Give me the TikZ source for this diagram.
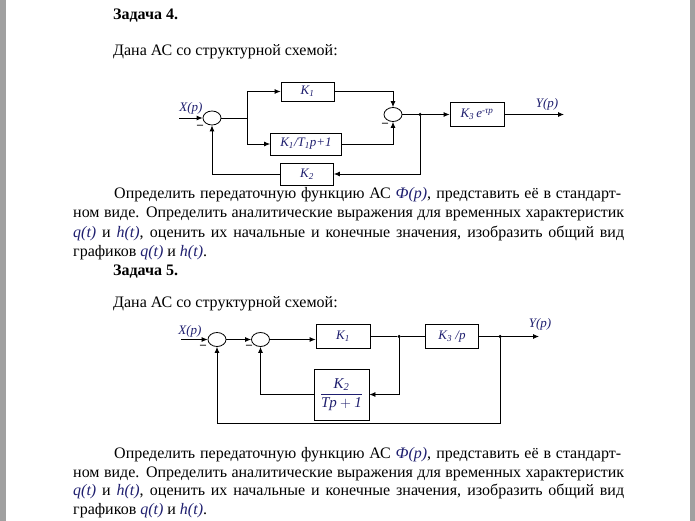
\documentclass[tikz,border=0pt]{standalone}
\usepackage{fontspec}
\setmainfont{Liberation Serif}
\usetikzlibrary{arrows.meta,positioning,shapes.geometric,calc}
\definecolor{formblue}{RGB}{30,30,110}
\definecolor{framegray}{RGB}{160,160,160}
\newcommand{\fm}[1]{\textcolor{formblue}{\textit{#1}}}
\newcommand{\Kx}[1]{\fm{K\textsubscript{#1}}}

\begin{document}
\begin{tikzpicture}[x=1pt,y=-1pt,
    txt/.style={anchor=base west, inner sep=0pt, font=\fontsize{16}{18.5}\selectfont},
    lbl/.style={inner sep=0pt, font=\fontsize{13}{15}\selectfont},
    box/.style={draw, line width=0.8pt, inner sep=1pt, font=\fontsize{13}{15}\selectfont},
    sum/.style={draw, ellipse, line width=0.8pt, minimum width=18pt, minimum height=14pt, inner sep=0pt},
    dot/.style={circle, fill, inner sep=0pt, minimum size=3.5pt},
    minus/.style={inner sep=0pt, font=\fontsize{12}{12}\selectfont\bfseries},
    ln/.style={line width=0.8pt},
    arr/.style={-{Latex[length=6pt,width=5pt]}, line width=0.8pt}
]
\useasboundingbox (0,0) rectangle (695,521);
\fill[framegray] (0,0) rectangle (6,521);
\fill[framegray] (690,0) rectangle (695,521);

% task 4
\node[txt] (t4) at (113,20) {\bfseries Задача 4.};
\node[txt] (g4) at (113,56) {Дана АС со структурной схемой:};

\node[sum] (s1) at (212,118) {};
\node[box, minimum width=53pt, minimum height=19pt] (k1) at (307.5,91.5) {\Kx{1}};
\node[box, minimum width=71pt, minimum height=22pt] (kt) at (306,144) {\Kx{1}\fm{/T\textsubscript{1}p+1}};
\node[box, minimum width=53pt, minimum height=22pt] (k2) at (307,174) {\Kx{2}};
\node[sum] (s2) at (393,114.5) {};
\node[box, minimum width=54pt, minimum height=24pt] (k3) at (477,114.5) {\Kx{3}\,\fm{e\textsuperscript{-τp}}};
\node[dot] (d1) at (420,114.5) {};
\coordinate (x1) at (179,118);
\coordinate (y1) at (564,114.5);
\coordinate (b1) at (247,118);
\node[lbl] (xl1) at (191,108) {\fm{X(p)}};
\node[lbl] (yl1) at (547,104) {\fm{Y(p)}};
\node[minus] (m1) at (200,127) {–};
\node[minus] (m2) at (385,125) {–};

\draw[arr] (x1) -- (s1);
\draw[ln] (s1) -- (b1);
\draw[arr] (b1) |- (k1);
\draw[arr] (b1) |- (kt);
\draw[arr] (k1) -| (s2);
\draw[arr] (kt) -| (s2);
\draw[arr] (s2) -- (k3);
\draw[arr] (k3) -- (y1);
\draw[arr] (d1) |- (k2);
\draw[arr] (k2) -| (s1);

\node[txt] (p1a) at (114,199) {\makebox[507pt][s]{Определить передаточную функцию АС \fm{Ф(p)}, представить её в стандарт-}};
\node[txt] (p1b) at (73,218) {\makebox[551pt][s]{ном виде. Определить аналитические выражения для временных характеристик}};
\node[txt] (p1c) at (73,237) {\makebox[551pt][s]{\fm{q(t)} и \fm{h(t)}, оценить их начальные и конечные значения, изобразить общий вид}};
\node[txt] (p1d) at (73,256) {графиков \fm{q(t)} и \fm{h(t)}.};

% task 5
\node[txt] (t5) at (113,275) {\bfseries Задача 5.};
\node[txt] (g5) at (113,307) {Дана АС со структурной схемой:};

\node[sum] (s3) at (217,339.5) {};
\node[sum] (s4) at (260.5,339.5) {};
\node[box, minimum width=54pt, minimum height=24pt] (ka) at (343,336.5) {\Kx{1}};
\node[box, minimum width=53pt, minimum height=24pt] (kb) at (452,336.5) {\Kx{3}\fm{ /p}};
\node[box, minimum width=55pt, minimum height=51pt, font=\fontsize{15}{17}\selectfont] (kf) at (341.5,394.5)
    {\color{formblue}$\displaystyle\frac{\mbox{\itshape K\textsubscript{2}}}{\mbox{\itshape Tp}+\mbox{\itshape 1}}$};
\node[dot] (d2) at (399,336.5) {};
\node[dot] (d3) at (500,336.5) {};
\coordinate (x2) at (181,339.5);
\coordinate (y2) at (539,336.5);
\coordinate (c2) at (500,423);
\node[lbl] (xl2) at (190,331) {\fm{X(p)}};
\node[lbl] (yl2) at (540,324) {\fm{Y(p)}};
\node[minus] (m3) at (203,347) {–};
\node[minus] (m4) at (249,347) {–};

\draw[arr] (x2) -- (s3);
\draw[arr] (s3) -- (s4);
\draw[arr] (s4) -- (s4 -| ka.west);
\draw[ln] (ka) -- (d2) -- (kb);
\draw[arr] (kb) -- (y2);
\draw[arr] (d2) |- (kf);
\draw[arr] (kf) -| (s4);
\draw[arr] (d3) -- (c2) -| (s3);

\node[txt] (p2a) at (114,458.5) {\makebox[507pt][s]{Определить передаточную функцию АС \fm{Ф(p)}, представить её в стандарт-}};
\node[txt] (p2b) at (73,477) {\makebox[551pt][s]{ном виде. Определить аналитические выражения для временных характеристик}};
\node[txt] (p2c) at (73,495.5) {\makebox[551pt][s]{\fm{q(t)} и \fm{h(t)}, оценить их начальные и конечные значения, изобразить общий вид}};
\node[txt] (p2d) at (73,514) {графиков \fm{q(t)} и \fm{h(t)}.};
\end{tikzpicture}
\end{document}
